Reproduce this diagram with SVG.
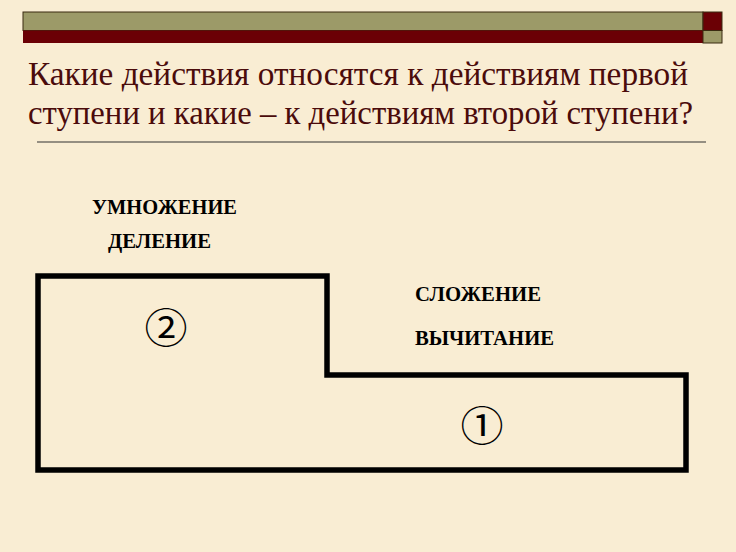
<svg xmlns="http://www.w3.org/2000/svg" width="736" height="552" viewBox="0 0 736 552">
<style>
.title{font-family:"Liberation Serif","Times New Roman",serif;font-size:34px;fill:#4b0b0b}
.lbl{font-family:"Liberation Serif","Times New Roman",serif;font-size:20px;font-weight:bold;fill:#000}
.num{font-family:"Noto Sans CJK JP","DejaVu Sans",sans-serif;font-size:41px;fill:#000;text-anchor:middle;dominant-baseline:central}
</style>
<rect x="0" y="0" width="736" height="552" fill="#f9edd3"/>
<g id="header">
<rect x="23" y="12" width="680" height="18.5" fill="#9c9a68" stroke="#3a2a10" stroke-width="1"/>
<rect x="23" y="30.5" width="680" height="12.5" fill="#6b0005"/>
<rect x="703" y="12" width="19" height="18.5" fill="#6b0005" stroke="#3a2a10" stroke-width="1"/>
<rect x="703" y="30.5" width="19" height="12.5" fill="#9c9a68" stroke="#3a2a10" stroke-width="1"/>
</g>
<g id="title">
<text class="title" x="28" y="85" textLength="660" lengthAdjust="spacingAndGlyphs">Какие действия относятся к  действиям первой</text>
<text class="title" x="28" y="124" textLength="665" lengthAdjust="spacingAndGlyphs">ступени и какие – к действиям второй ступени?</text>
<line x1="37" y1="142" x2="706" y2="142" stroke="#333" stroke-width="1.2"/>
</g>
<g id="labels">
<text class="lbl" x="92" y="214" textLength="145" lengthAdjust="spacingAndGlyphs">УМНОЖЕНИЕ</text>
<text class="lbl" x="108" y="248" textLength="103" lengthAdjust="spacingAndGlyphs">ДЕЛЕНИЕ</text>
<text class="lbl" x="415" y="301" textLength="126" lengthAdjust="spacingAndGlyphs">СЛОЖЕНИЕ</text>
<text class="lbl" x="415" y="345" textLength="139" lengthAdjust="spacingAndGlyphs">ВЫЧИТАНИЕ</text>
</g>
<g id="steps">
<path d="M38,276 H327 V375 H686 V470 H38 Z" fill="none" stroke="#000" stroke-width="5.5" stroke-linejoin="miter"/>
<text class="num" transform="translate(166,325) scale(1.05,1)">②</text>
<text class="num" transform="translate(482,423) scale(1.05,1)">①</text>
</g>
</svg>
